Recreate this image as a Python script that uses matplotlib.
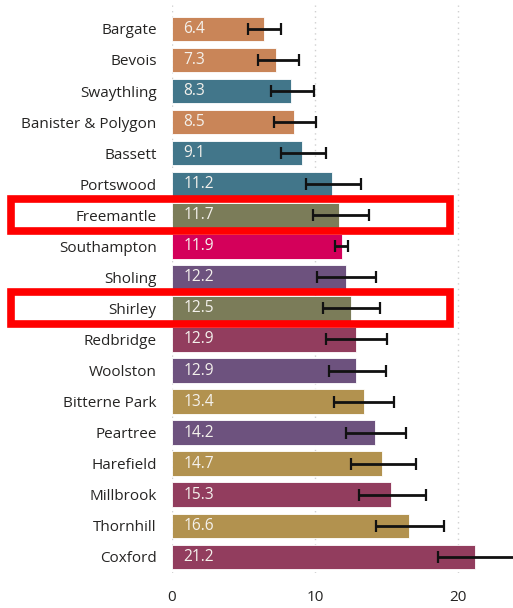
import matplotlib
matplotlib.use("Agg")
import matplotlib.pyplot as plt
from matplotlib.patches import Rectangle
from matplotlib.transforms import blended_transform_factory

wards = ["Bargate", "Bevois", "Swaythling", "Banister & Polygon", "Bassett",
         "Portswood", "Freemantle", "Southampton", "Sholing", "Shirley",
         "Redbridge", "Woolston", "Bitterne Park", "Peartree", "Harefield",
         "Millbrook", "Thornhill", "Coxford"]
values = [6.4, 7.3, 8.3, 8.5, 9.1, 11.2, 11.7, 11.9, 12.2, 12.5,
          12.9, 12.9, 13.4, 14.2, 14.7, 15.3, 16.6, 21.2]
lower = [5.3, 6.0, 6.9, 7.15, 7.6, 9.35, 9.85, 11.4, 10.15, 10.55,
         10.8, 10.95, 11.35, 12.15, 12.5, 13.1, 14.25, 18.6]
upper = [7.6, 8.85, 9.9, 10.1, 10.8, 13.2, 13.75, 12.3, 14.3, 14.55,
         15.05, 14.95, 15.5, 16.4, 17.1, 17.75, 19.05, 24.3]
groups = ["orange", "orange", "teal", "orange", "teal", "teal", "olive",
          "pink", "purple", "olive", "maroon", "purple", "gold", "purple",
          "gold", "maroon", "gold", "maroon"]
highlight = ["Freemantle", "Shirley"]
xticks = [0, 10, 20]

palette = {"orange": "#C98558", "teal": "#42768A", "olive": "#7B7C59",
           "pink": "#D4005A", "purple": "#6D527E", "maroon": "#923D5E",
           "gold": "#B2924F"}

plt.rcParams['font.family'] = ['Open Sans', 'DejaVu Sans']

W, H = 513, 608
fig = plt.figure(figsize=(W / 100, H / 100), dpi=100)
ax = fig.add_axes([172 / W, (H - 573) / H, (W - 172) / W, 568 / H])

ypos = list(range(len(wards)))
colors = [palette[g] for g in groups]
ax.barh(ypos, values, height=0.79, color=colors, edgecolor="white",
        linewidth=0.6, zorder=2)
xerr = [[v - lo for v, lo in zip(values, lower)],
        [up - v for v, up in zip(values, upper)]]
ax.errorbar(values, ypos, xerr=xerr, fmt="none", ecolor="#111111",
            elinewidth=2.0, capsize=4, capthick=1.6, zorder=3)

for y, v in zip(ypos, values):
    ax.text(0.8, y, f"{v:.1f}", color="#F4F1EC", va="center", ha="left",
            fontsize=11.2, zorder=4)

ax.set_xlim(0, 23.85)
ax.set_ylim(17.52, -0.77)
ax.set_yticks(ypos)
ax.set_yticklabels(wards, fontsize=11, color="#252423")
ax.set_xticks(xticks)
ax.set_xticklabels([str(t) for t in xticks], fontsize=11, color="#252423")
ax.tick_params(axis="both", length=0)
ax.tick_params(axis="y", pad=11)
ax.tick_params(axis="x", pad=12)
for s in ax.spines.values():
    s.set_visible(False)
ax.grid(axis="x", linestyle=(0, (1, 3)), color="#D0D0D0", linewidth=1.0, zorder=0)
ax.set_axisbelow(True)

trans = blended_transform_factory(fig.transFigure, ax.transData)
x0 = 11.2 / W
x1 = 449.5 / W
for name in highlight:
    i = wards.index(name)
    rect = Rectangle((x0, i - 0.515), x1 - x0, 1.03, transform=trans,
                     fill=False, edgecolor="#FF0000", linewidth=5.5,
                     clip_on=False, zorder=5)
    ax.add_patch(rect)

fig.savefig("out.png", dpi=100)
